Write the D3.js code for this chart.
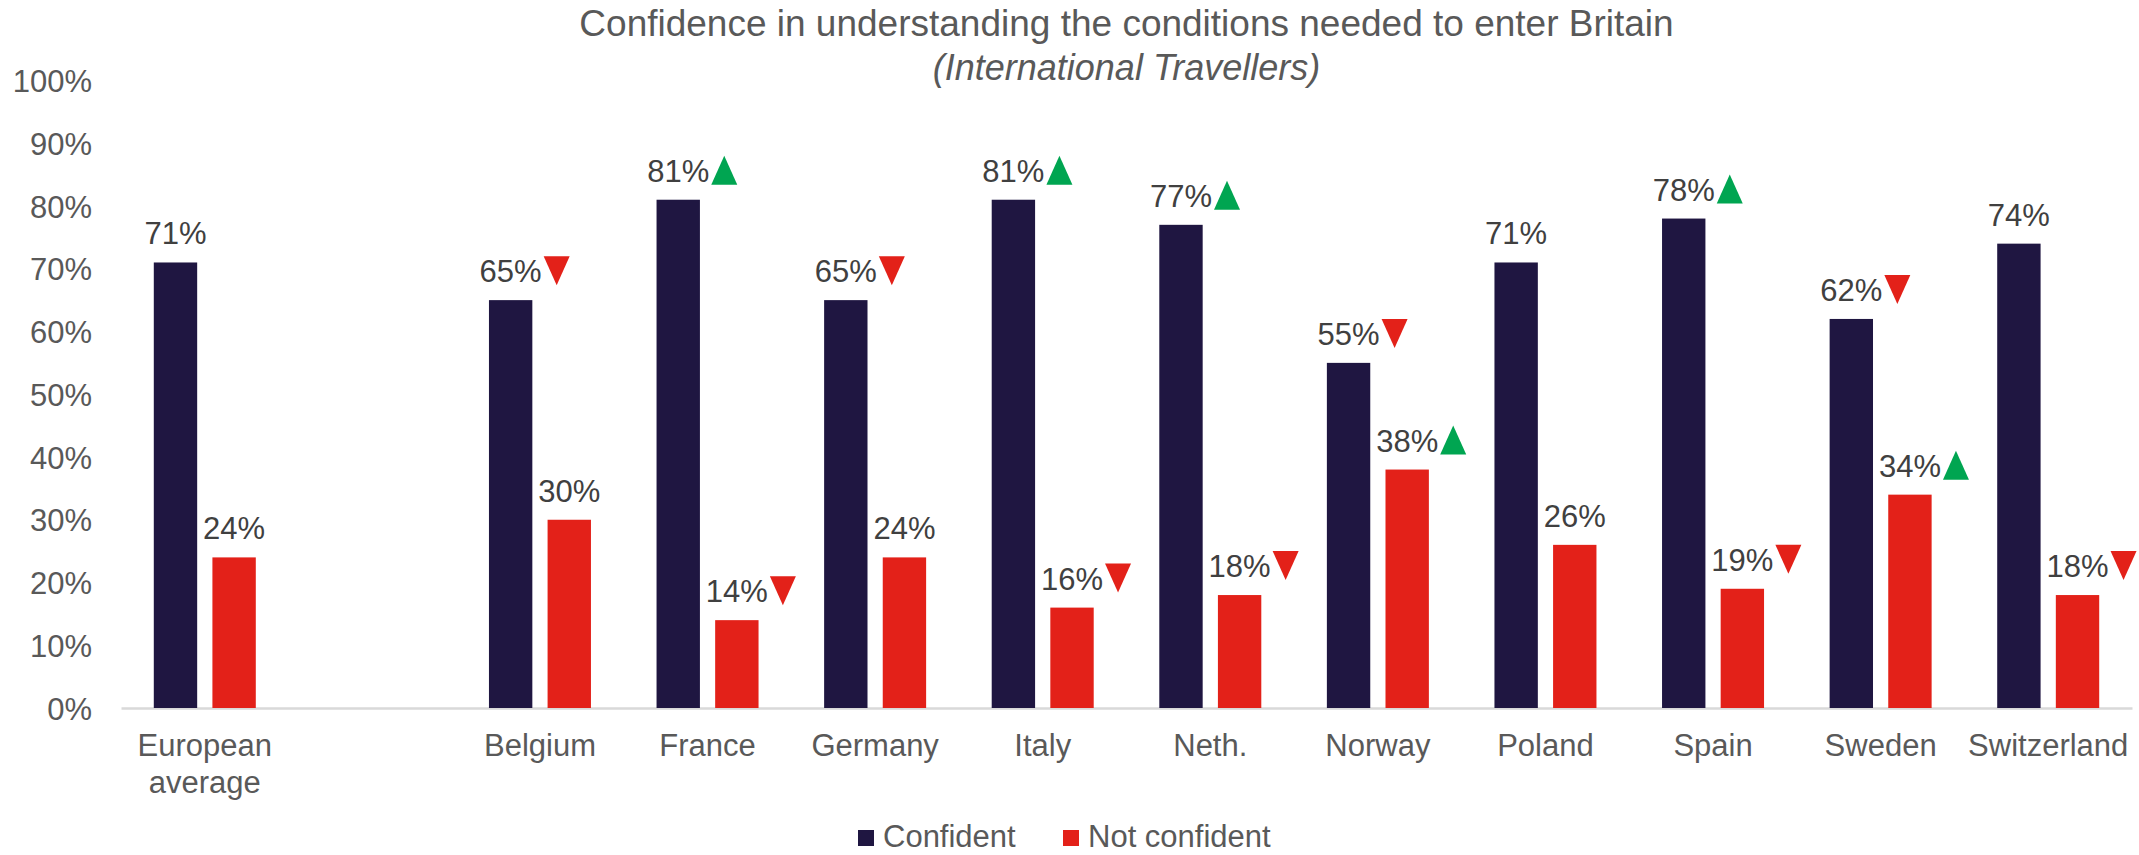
<!DOCTYPE html>
<html>
<head>
<meta charset="utf-8">
<title>Confidence in understanding the conditions needed to enter Britain</title>
<style>
body { margin: 0; background: #fff; }
svg text { font-family: "Liberation Sans", Arial, sans-serif; }
.title { font-size: 37px; fill: #595959; }
.sub { font-size: 36px; font-style: italic; }
.axis text { font-size: 31px; fill: #595959; }
.axis .domain { stroke: #d9d9d9; stroke-width: 2.5px; }
.lbl { font-size: 31px; fill: #404040; }
.legend text { font-size: 31px; fill: #595959; }
</style>
</head>
<body>
<svg width="2139" height="855"></svg>
<script src="https://d3js.org/d3.v7.min.js"></script>
<script>

// data
var slots = ["European average", "", "Belgium", "France", "Germany", "Italy", "Neth.", "Norway", "Poland", "Spain", "Sweden", "Switzerland"];
var categories = ["European average", "Belgium", "France", "Germany", "Italy", "Neth.", "Norway", "Poland", "Spain", "Sweden", "Switzerland"];
var series = ["Confident", "Not confident"];
var confident = [0.71, 0.65, 0.81, 0.65, 0.81, 0.77, 0.55, 0.71, 0.78, 0.62, 0.74];
var notConfident = [0.24, 0.30, 0.14, 0.24, 0.16, 0.18, 0.38, 0.26, 0.19, 0.34, 0.18];
// change markers: 1 = up, -1 = down, 0 = none
var confidentChange = [0, -1, 1, -1, 1, 1, -1, 0, 1, -1, 0];
var notConfidentChange = [0, 0, -1, 0, -1, -1, 1, 0, -1, 1, -1];
var yTicks = [0, 0.1, 0.2, 0.3, 0.4, 0.5, 0.6, 0.7, 0.8, 0.9, 1];

var colors = { "Confident": "#1f1641", "Not confident": "#e32119" };
var up = "#00a551", down = "#e32119";

var svg = d3.select("svg");
var left = 121, right = 2132;

var x = d3.scaleBand()
    .domain(slots)
    .range([left, right]);

var xs = d3.scaleBand()
    .domain(series)
    .range([x.bandwidth() / 2 - 51, x.bandwidth() / 2 + 51])
    .paddingInner(0.26);

var y = d3.scaleLinear()
    .domain([0, 1])
    .range([708, 80.5]);

// titles
svg.append("text")
    .attr("class", "title")
    .attr("x", (left + right) / 2)
    .attr("y", 36)
    .attr("text-anchor", "middle")
    .text("Confidence in understanding the conditions needed to enter Britain");

svg.append("text")
    .attr("class", "title sub")
    .attr("x", (left + right) / 2)
    .attr("y", 80)
    .attr("text-anchor", "middle")
    .text("(International Travellers)");

// y axis
var yAxis = svg.append("g")
    .attr("class", "axis")
    .attr("transform", "translate(" + left + ",0)")
    .call(d3.axisLeft(y).tickValues(yTicks).tickFormat(d3.format(".0%")).tickSize(0).tickPadding(29));
yAxis.select(".domain").remove();
yAxis.selectAll("text").attr("dy", "0.36em");

// x axis
var xAxis = svg.append("g")
    .attr("class", "axis")
    .attr("transform", "translate(0," + y(0) + ")")
    .call(d3.axisBottom(x).tickSize(0).tickSizeOuter(0));

xAxis.selectAll(".tick text").each(function(d) {
  var t = d3.select(this);
  t.text(null).attr("dy", null).attr("y", 48);
  d.split(" ").forEach(function(w, i) {
    t.append("tspan").attr("x", 0).attr("dy", i ? 37 : 0).text(w);
  });
});

// rows
var rows = categories.map(function(c, i) {
  return {
    cat: c,
    vals: [
      { key: "Confident", v: confident[i], ch: confidentChange[i] },
      { key: "Not confident", v: notConfident[i], ch: notConfidentChange[i] }
    ]
  };
});

var groups = svg.append("g")
  .selectAll("g")
  .data(rows)
  .enter().append("g")
    .attr("transform", function(d) { return "translate(" + x(d.cat) + ",0)"; });

groups.selectAll("rect")
  .data(function(d) { return d.vals; })
  .enter().append("rect")
    .attr("x", function(d) { return xs(d.key); })
    .attr("y", function(d) { return y(d.v); })
    .attr("width", xs.bandwidth())
    .attr("height", function(d) { return y(0) - y(d.v); })
    .attr("fill", function(d) { return colors[d.key]; });

var fmt = d3.format(".0%");

groups.selectAll("g.lab")
  .data(function(d) { return d.vals; })
  .enter().append("g")
    .attr("class", "lab")
    .each(function(d) {
      var g = d3.select(this);
      var cx = xs(d.key) + xs.bandwidth() / 2;
      var base = y(d.v) - 18;
      var t = g.append("text")
          .attr("class", "lbl")
          .attr("x", cx)
          .attr("y", base)
          .attr("text-anchor", "middle")
          .text(fmt(d.v));
      if (d.ch) {
        var w = t.node().getComputedTextLength();
        var x0 = cx + w / 2 + 2, aw = 26, top = base - 26, bot = base + 3;
        var pts = d.ch > 0
          ? [[x0, bot], [x0 + aw, bot], [x0 + aw / 2, top]]
          : [[x0, top], [x0 + aw, top], [x0 + aw / 2, bot]];
        g.append("path")
          .attr("d", "M" + pts.join("L") + "Z")
          .attr("fill", d.ch > 0 ? up : down);
      }
    });

// legend
var legend = svg.append("g").attr("class", "legend");
var legPos = [858, 1063];
series.forEach(function(s, i) {
  legend.append("rect")
      .attr("x", legPos[i])
      .attr("y", 830)
      .attr("width", 16)
      .attr("height", 16)
      .attr("fill", colors[s]);
  legend.append("text")
      .attr("x", legPos[i] + 25)
      .attr("y", 847)
      .text(s);
});

</script>
</body>
</html>
